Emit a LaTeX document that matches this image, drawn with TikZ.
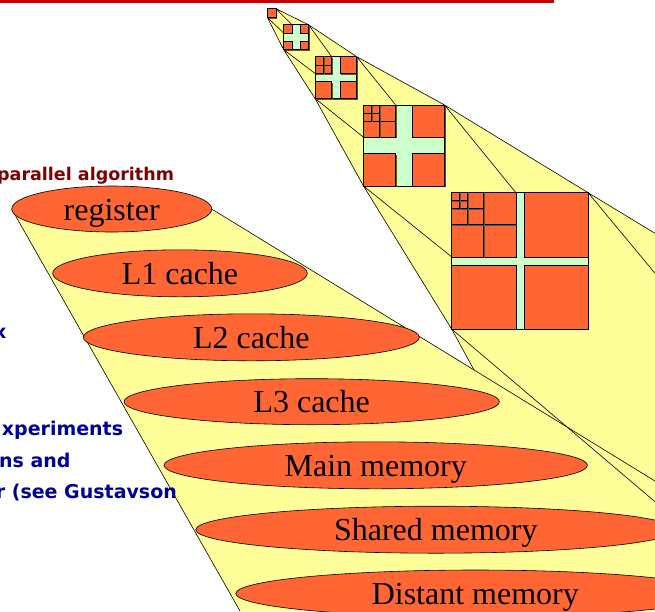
\documentclass[tikz,border=0pt]{standalone}
\usepackage{fontspec}
\setmainfont{Liberation Serif}
\newfontfamily\comicf{DejaVu Sans}
\usetikzlibrary{shapes.geometric,calc}
\definecolor{yel}{RGB}{255,255,153}
\definecolor{orng}{RGB}{255,102,51}
\definecolor{grn}{RGB}{204,255,204}
\definecolor{maroonc}{RGB}{128,0,0}
\definecolor{navyc}{RGB}{0,0,153}
\definecolor{redline}{RGB}{204,0,0}
\definecolor{shadowc}{RGB}{85,85,70}
\tikzset{
  edge/.style={draw=black,line width=0.6pt},
  memell/.style={ellipse, fill=orng, draw=black, line width=0.6pt, inner sep=0pt,
    text height=22pt, text depth=0pt, font=\fontsize{32}{36}\selectfont},
  maroontext/.style={inner sep=0pt, anchor=base west, text=maroonc,
    font=\comicf\bfseries\fontsize{17.5}{20}\selectfont},
  bluetext/.style={inner sep=0pt, anchor=base west, text=navyc,
    font=\comicf\bfseries\fontsize{19}{22}\selectfont},
}
\newcommand{\oblk}[3]{%
  \fill[shadowc] ({#1+1.2},{#2+1.2}) rectangle ++(#3,#3);
  \filldraw[fill=orng,draw=black,line width=0.8pt] ({#1},{#2}) rectangle ++(#3,#3);}
\newcommand{\subq}[3]{%
  \pgfmathsetmacro\hh{#3/2}%
  \oblk{#1+\hh}{#2+\hh}{\hh}\oblk{#1+\hh}{#2}{\hh}\oblk{#1}{#2+\hh}{\hh}\oblk{#1}{#2}{\hh}}
\newcommand{\fourq}[4]{%
  \pgfmathsetmacro\ss{2*#3+#4}\pgfmathsetmacro\oo{#3+#4}%
  \fill[shadowc] ({#1+1.2},{#2+1.2}) rectangle ++(\ss,\ss);
  \filldraw[fill=grn,draw=black,line width=0.8pt] ({#1},{#2}) rectangle ++(\ss,\ss);
  \oblk{#1+\oo}{#2+\oo}{#3}\oblk{#1+\oo}{#2}{#3}\oblk{#1}{#2+\oo}{#3}\oblk{#1}{#2}{#3}}
\begin{document}
\begin{tikzpicture}[x=1pt,y=-1pt]
\useasboundingbox (0,0) rectangle (655,611);
\clip (0,0) rectangle (655,611);
% pyramid corners
\coordinate (TL0) at (267.3,8.7);
\coordinate (TR0) at (276,8.7);
\coordinate (BL0) at (267.3,17.4);
\coordinate (TR1) at (308.6,24.8);
\coordinate (QTR1) at (292,24.8);
\coordinate (BL1) at (283.7,49.7);
\coordinate (QBL1) at (283.7,33.1);
\coordinate (TR2) at (356.7,56.7);
\coordinate (QTR2) at (331.7,56.7);
\coordinate (BL2) at (315,98.4);
\coordinate (QBL2) at (315,73.4);
\coordinate (TR3) at (444.5,105);
\coordinate (QTR3) at (395.7,105);
\coordinate (BL3) at (363.5,186);
\coordinate (QBL3) at (363.5,137.2);
\coordinate (TR4) at (588.1,192.7);
\coordinate (QTR4) at (515.9,192.7);
\coordinate (BL4) at (451.7,329.1);
\coordinate (QBL4) at (451.7,256.9);
\coordinate (P) at (474,370);
\coordinate (E1) at (655,233.3);
\coordinate (E2) at (655,273.3);
\coordinate (E3) at (655,501.7);
% cone corners
\coordinate (rw) at (11.7,209);
\coordinate (re) at (211.7,209);
\coordinate (CL) at (240,611);
\coordinate (CR) at (655,481);
% pyramid fill
\fill[yel] (TL0) -- (TR0) -- (TR1) -- (TR2) -- (TR3) -- (TR4) -- (E1) -- (655,611) -- (616,611)
  -- (P) -- (BL4) -- (BL3) -- (BL2) -- (BL1) -- (BL0) -- cycle;
% pyramid lines
\draw[edge] (TR0) -- (TR1) (TR0) -- (QTR1) (BL0) -- (BL1) (BL0) -- (QBL1);
\draw[edge] (TR1) -- (TR2) (TR1) -- (QTR2) (BL1) -- (BL2) (BL1) -- (QBL2);
\draw[edge] (TR2) -- (TR3) (TR2) -- (QTR3) (BL2) -- (BL3) (BL2) -- (QBL3);
\draw[edge] (TR3) -- (TR4) (TR3) -- (QTR4) (BL3) -- (BL4) (BL3) -- (QBL4);
\draw[edge] (TR4) -- (E1) (TR4) -- (E2) (BL4) -- (P);
% memory cone
\fill[yel] (rw) -- (CL) -- (655,611) -- (CR) -- (re) -- cycle;
\draw[edge] (rw) -- (CL);
\draw[edge] (re) -- (CR);
\node[memell, minimum width=200pt, minimum height=46pt] (reg) at (111.7,209) {register};
\node[memell, minimum width=254.6pt, minimum height=47pt] (l1) at (180,273.3) {L1 cache};
\node[memell, minimum width=336pt, minimum height=47pt] (l2) at (251.3,337.3) {L2 cache};
\node[memell, minimum width=375.4pt, minimum height=46pt] (l3) at (311.7,401.7) {L3 cache};
\node[memell, minimum width=423.4pt, minimum height=47pt] (mm) at (375.7,465.3) {Main memory};
\node[memell, minimum width=480pt, minimum height=47pt] (sm) at (435.8,529.7) {Shared memory};
\node[memell, minimum width=479pt, minimum height=47pt] (dm) at (475.3,593.5) {Distant memory};
\draw[edge] (BL4) -- (E3);
% squares
\oblk{267.3}{8.7}{8.7}
\fourq{283.7}{24.8}{8.3}{8.3}
\fourq{315}{56.7}{16.7}{8.3}
\subq{315}{56.7}{16.7}
\fourq{363.5}{105}{32.2}{16.6}
\subq{363.5}{105}{32.2}
\subq{363.5}{105}{16.1}
\fourq{451.7}{192.7}{64.2}{8}
\subq{451.7}{192.7}{64.2}
\subq{451.7}{192.7}{32.1}
\subq{451.7}{192.7}{16.05}
% left texts
\node[maroontext] (t1) at (-3,180) {parallel algorithm};
\node[bluetext] (t2) at (-6,338) {x};
\node[bluetext] (t3) at (1.7,435) {xperiments};
\node[bluetext] (t4) at (-1,467.3) {ns and};
\node[bluetext] (t5) at (-4.3,498.3) {r (see Gustavson};
% red rule
\fill[redline] (0,0) rectangle (553.5,3.2);
\end{tikzpicture}
\end{document}
